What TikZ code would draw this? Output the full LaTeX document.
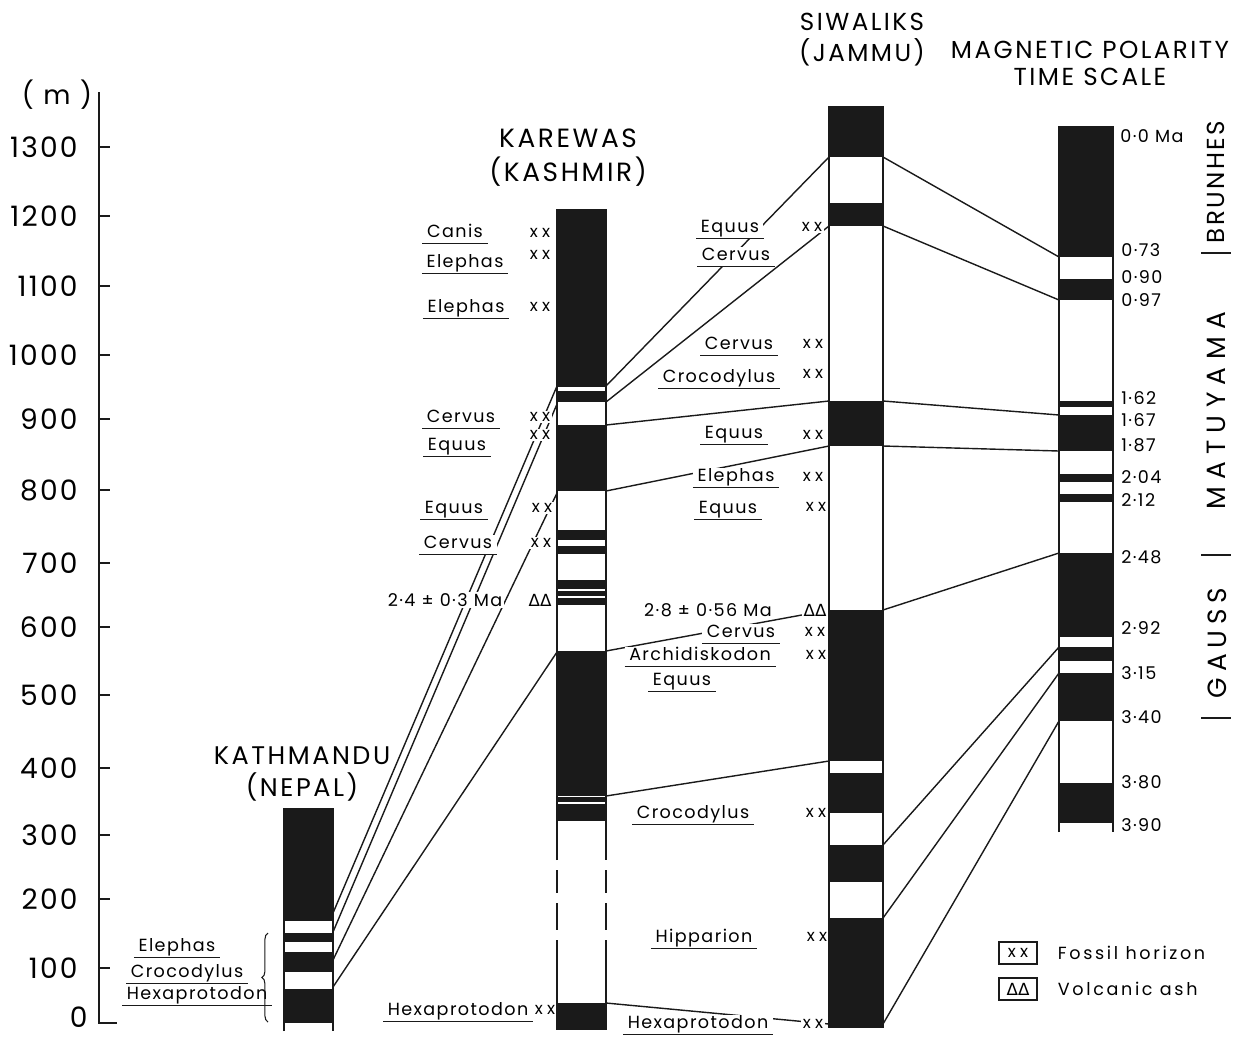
\documentclass[tikz,border=0pt]{standalone}
\usepackage{fontspec}
\usepackage{xcolor}
\setmainfont{Poppins}
\newfontfamily\labfont{Poppins}[LetterSpace=8]
\newfontfamily\ttlfont{Poppins}[LetterSpace=10]
\newfontfamily\keyfont{Poppins}[LetterSpace=15]
\newfontfamily\chronfont{Poppins}[LetterSpace=22]
\newfontfamily\widefont{Poppins}[LetterSpace=28]
\newfontfamily\symfont{DejaVu Sans}
\usetikzlibrary{positioning,decorations.pathreplacing}
\definecolor{ink}{HTML}{1A1A1A}

\begin{document}
\begin{tikzpicture}[
  x=0.02cm, y=-0.02cm,
  corr/.style={line width=0.8pt,color=ink},
  colline/.style={line width=0.85pt,color=ink},
  axisline/.style={line width=1.1pt,color=ink},
  band/.style={fill=ink},
  taxon/.style={font=\labfont\fontsize{10}{12}\selectfont,fill=white,
                inner xsep=2.5pt,inner ysep=0.6pt,text height=0.72em,text depth=0.22em,
                anchor=base,yshift=-3.4pt,
                append after command={(\tikzlastnode.south west) edge[line width=0.65pt,ink] (\tikzlastnode.south east)}},
  fos/.style={font=\labfont\fontsize{9.5}{11}\selectfont,fill=white,inner sep=1pt},
  ash/.style={font=\symfont\fontsize{9.5}{11}\selectfont,fill=white,inner sep=1pt},
  note/.style={font=\labfont\fontsize{10}{12}\selectfont,fill=white,inner sep=1pt},
  age/.style={font=\labfont\fontsize{10}{12}\selectfont,anchor=west,inner sep=0pt},
  ttl/.style={font=\ttlfont\fontsize{15}{18}\selectfont,inner sep=0pt},
  num/.style={font=\labfont\fontsize{16}{19}\selectfont,anchor=east,inner sep=0pt},
  chron/.style={font=\chronfont\fontsize{15}{18}\selectfont,rotate=90,inner sep=0pt},
  key/.style={draw=ink,line width=0.8pt,minimum width=0.76cm,minimum height=0.44cm,inner sep=0pt}
]
\useasboundingbox (0,0) rectangle (1239,1038);

% depth axis
\draw[axisline] (99,92) -- (99,1023) -- (117,1023);
\foreach \v/\y in {100/968,200/899,300/835,400/768,500/695,600/627,700/563,
                   800/490,900/419,1000/355,1100/286,1200/216,1300/147}{
  \draw[axisline] (99,\y) -- (110,\y);
  \node[num] (m\v) at (78,\y) {\v};
}
\node[num] (m0) at (88,1017) {0};
\node[ttl] (unit) at (57,95) {( m )};

% column titles
\node[ttl,font=\ttlfont\fontsize{14.5}{17}\selectfont] (kathttl) at (302,756) {KATHMANDU};
\node[ttl,font=\ttlfont\fontsize{14.5}{17}\selectfont,below=4pt of kathttl] (kathsub) {(NEPAL)};
\node[ttl] (karttl) at (568,138) {KAREWAS};
\node[ttl,below=5pt of karttl] (karsub) {(KASHMIR)};
\node[ttl,font=\ttlfont\fontsize{14}{17}\selectfont] (siwttl) at (862,22) {SIWALIKS};
\node[ttl,font=\ttlfont\fontsize{14}{17}\selectfont,below=4pt of siwttl] (siwsub) {(JAMMU)};
\node[ttl,font=\ttlfont\fontsize{14}{17}\selectfont] (magttl) at (1090,50) {MAGNETIC POLARITY};
\node[ttl,font=\ttlfont\fontsize{14}{17}\selectfont,below=5pt of magttl] (magsub) {TIME SCALE};

% correlation points
\foreach \n/\y in {1/913,2/932,3/960,4/987} \coordinate (kt\n) at (333,\y);
\foreach \n/\y in {1/386,2/404,3/493,4/652} \coordinate (kl\n) at (557,\y);
\foreach \n/\y in {1/386,2/402,3/425,4/491,5/651,6/796,7/1003} \coordinate (kr\n) at (606,\y);
\foreach \n/\y in {1/157,2/226,3/401,4/446,5/610,6/761,7/1024} \coordinate (sl\n) at (829,\y);
\foreach \n/\y in {1/157,2/226,3/401,4/446,5/610,6/845,7/918,8/1024} \coordinate (sr\n) at (883,\y);
\foreach \n/\y in {1/257,2/300,3/415,4/451,5/553,6/647,7/673,8/721} \coordinate (ml\n) at (1059,\y);

% correlation lines
\foreach \n in {1,...,4} \draw[corr] (kt\n) -- (kl\n);
\foreach \n in {1,...,7} \draw[corr] (kr\n) -- (sl\n);
\foreach \n in {1,...,8} \draw[corr] (sr\n) -- (ml\n);

% Kathmandu fossils
\node[taxon] (ka1) at (177,946) {Elephas};
\node[taxon] (ka2) at (187,972) {Crocodylus};
\node[taxon] (ka3) at (197,994) {Hexaprotodon};
\coordinate (bralo) at (268,1022);
\coordinate (brahi) at (268,933);
\draw[decorate,decoration={brace,amplitude=3.5pt},line width=0.6pt,ink] (bralo) -- (brahi);

% Karewas fossils
\node[taxon] (kw1) at (455,232) {Canis};
\node[fos] (kx1) at (540,233) {x\hspace{2.5pt}x};
\node[taxon] (kw2) at (465,262) {Elephas};
\node[fos] (kx2) at (540,255) {x\hspace{2.5pt}x};
\node[taxon] (kw3) at (466,307) {Elephas};
\node[fos] (kx3) at (540,307) {x\hspace{2.5pt}x};
\node[taxon] (kw4) at (461,417) {Cervus};
\node[fos] (kx4) at (540,417) {x\hspace{2.5pt}x};
\node[taxon] (kw5) at (457,445) {Equus};
\node[fos] (kx5) at (540,435) {x\hspace{2.5pt}x};
\node[taxon] (kw6) at (454,508) {Equus};
\node[fos] (kx6) at (542,508) {x\hspace{2.5pt}x};
\node[taxon] (kw7) at (458,543) {Cervus};
\node[fos] (kx7) at (541,543) {x\hspace{2.5pt}x};
\node[note] (kwage) at (445,600) {2·4 ± 0·3 Ma};
\node[ash] (kwash) at (540,600) {ΔΔ};
\node[taxon] (kw8) at (458,1010) {Hexaprotodon};
\node[fos] (kx8) at (545,1010) {x\hspace{2.5pt}x};

% Siwalik fossils
\node[taxon] (sw1) at (730,227) {Equus};
\node[fos] (sx1) at (812,227) {x\hspace{2.5pt}x};
\node[taxon] (sw2) at (736,255) {Cervus};
\node[taxon] (sw3) at (739,344) {Cervus};
\node[fos] (sx3) at (813,344) {x\hspace{2.5pt}x};
\node[taxon] (sw4) at (719,377) {Crocodylus};
\node[fos] (sx4) at (813,374) {x\hspace{2.5pt}x};
\node[taxon] (sw5) at (734,433) {Equus};
\node[fos] (sx5) at (813,435) {x\hspace{2.5pt}x};
\node[taxon] (sw6) at (736,476) {Elephas};
\node[fos] (sx6) at (813,477) {x\hspace{2.5pt}x};
\node[taxon] (sw7) at (728,508) {Equus};
\node[fos] (sx7) at (816,507) {x\hspace{2.5pt}x};
\node[note] (swage) at (708,610) {2·8 ± 0·56 Ma};
\node[ash] (swash) at (815,610) {ΔΔ};
\node[taxon] (sw8) at (741,632) {Cervus};
\node[fos] (sx8) at (815,632) {x\hspace{2.5pt}x};
\node[taxon] (sw9) at (700,655) {Archidiskodon};
\node[fos] (sx9) at (816,655) {x\hspace{2.5pt}x};
\node[taxon] (sw10) at (682,680) {Equus};
\node[taxon] (sw11) at (693,813) {Crocodylus};
\node[fos] (sx11) at (816,813) {x\hspace{2.5pt}x};
\node[taxon] (sw12) at (704,937) {Hipparion};
\node[fos] (sx12) at (817,937) {x\hspace{2.5pt}x};
\node[taxon] (sw13) at (698,1023) {Hexaprotodon};
\node[fos] (sx13) at (813,1024) {x\hspace{2.5pt}x};

% Kathmandu column
\foreach \a/\b in {809/921,933/942,952/972,989/1023}
  \fill[band] (284,\a) rectangle (333,\b);
\draw[colline] (284,1031) -- (284,809) -- (333,809) -- (333,1031);

% Karewas column
\foreach \a/\b in {210/387,391/402,425/491,530/540,546/554,580/588.5,590.5/596,597.5/605,
                   651/795.5,797/802,803.5/821,1003/1029}
  \fill[band] (557,\a) rectangle (606,\b);
\draw[colline] (557,860) -- (557,210) -- (606,210) -- (606,860);
\foreach \a/\b in {870/893,903/930}
  \draw[colline] (557,\a) -- (557,\b) (606,\a) -- (606,\b);
\draw[colline] (557,940) -- (557,1029) -- (606,1029) -- (606,940);

% Siwalik column
\foreach \a/\b in {107/157,203/226,401/446,610/761,773/813,845/882,918/1027}
  \fill[band] (829,\a) rectangle (883,\b);
\draw[colline] (829,107) rectangle (883,1027);

% polarity column
\foreach \a/\b in {127/257,279/300,401/407,415/451,474/482,494/502,553/637,647/661,673/721,783/823}
  \fill[band] (1059,\a) rectangle (1113,\b);
\draw[colline] (1059,832) -- (1059,127) -- (1113,127) -- (1113,832);

% ages
\foreach \t/\y in {0·73/250,0·90/277,0·97/300,1·62/398,1·67/420,1·87/445,2·04/477,
                   2·12/500,2·48/557,2·92/628,3·15/673,3·40/717,3·80/782,3·90/825}
  \node[age] (a\y) at (1121,\y) {\t};
\node[age] (a0) at (1120,136) {0·0 Ma};

% chrons
\node[chron,font=\ttlfont\fontsize{14}{17}\selectfont] (brunhes) at (1216,182) {BRUNHES};
\node[chron,font=\widefont\fontsize{15}{18}\selectfont] (matuyama) at (1216,411) {MATUYAMA};
\node[chron] (gauss) at (1217,643) {GAUSS};
\foreach \y in {253,555,718}
  \draw[axisline] (1201,\y) -- (1231,\y);

% key
\node[key,font=\labfont\fontsize{9.5}{11}\selectfont] (kfos) at (1018,953) {x\hspace{2.5pt}x};
\node[key,font=\symfont\fontsize{9.5}{11}\selectfont] (kash) at (1018,989) {ΔΔ};
\node[font=\keyfont\fontsize{10}{12}\selectfont,right=8pt of kfos] (tfos) {Fossil horizon};
\node[font=\keyfont\fontsize{10}{12}\selectfont,right=8pt of kash] (tash) {Volcanic ash};
\end{tikzpicture}
\end{document}
